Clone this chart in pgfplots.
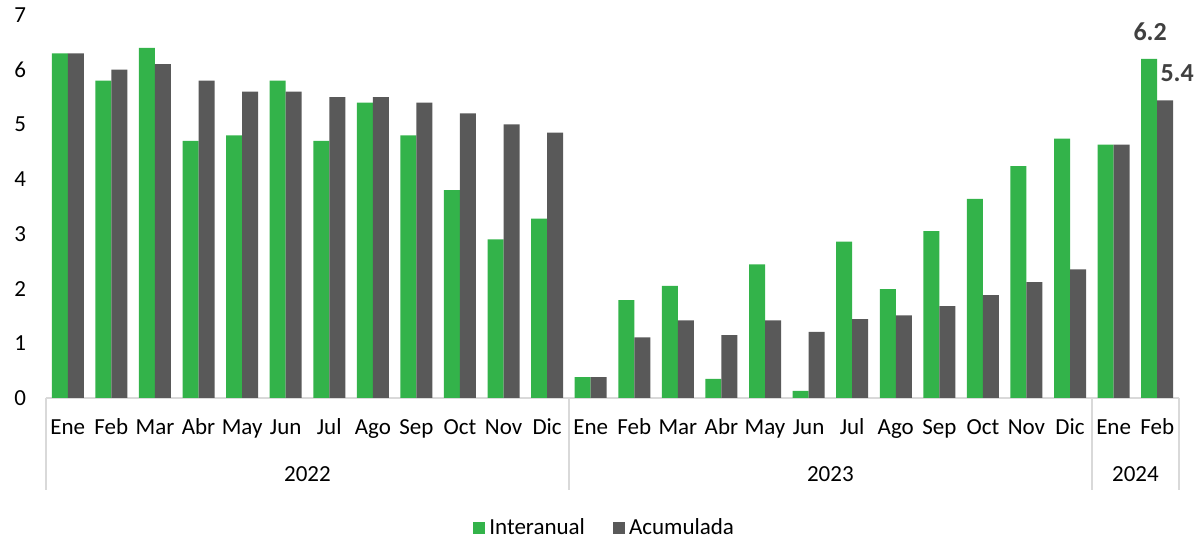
\documentclass[border=0pt]{standalone}
\usepackage{pgfplots}
\pgfplotsset{compat=1.18}
\usepackage{pgfplotstable}
\usepackage{fontspec}
\setmainfont{Carlito}
\definecolor{verde}{HTML}{33B34A}
\definecolor{gris}{HTML}{595959}
\definecolor{linea}{HTML}{D9D9D9}
\definecolor{etiqueta}{HTML}{404040}

% x = month index, inter = interanual, acum = acumulada
\pgfplotstableread{
x inter acum
0  6.3  6.3
1  5.8  6.0
2  6.4  6.1
3  4.7  5.8
4  4.8  5.6
5  5.8  5.6
6  4.7  5.5
7  5.4  5.5
8  4.8  5.4
9  3.8  5.2
10 2.9  5.0
11 3.28 4.85
12 0.38 0.38
13 1.79 1.11
14 2.05 1.42
15 0.35 1.15
16 2.44 1.42
17 0.13 1.21
18 2.86 1.44
19 1.99 1.51
20 3.05 1.68
21 3.64 1.88
22 4.24 2.12
23 4.74 2.35
24 4.63 4.63
25 6.2  5.44
}\datos

\begin{document}
\fontsize{11.5}{13.8}\selectfont
\begin{tikzpicture}
\begin{axis}[
  scale only axis,
  width=566.5pt, height=191.5pt,
  ymin=0, ymax=7, ytick={0,...,7},
  xmin=-0.5, xmax=25.5,
  ybar=0pt, bar width=8pt,
  axis x line*=bottom, axis y line*=left,
  x axis line style={linea, line width=0.8pt},
  y axis line style={draw=none},
  xtick=data,
  xticklabels={Ene,Feb,Mar,Abr,May,Jun,Jul,Ago,Sep,Oct,Nov,Dic,
               Ene,Feb,Mar,Abr,May,Jun,Jul,Ago,Sep,Oct,Nov,Dic,Ene,Feb},
  major tick length=0pt,
  tick style={draw=none},
  xticklabel style={anchor=base, yshift=-18.5pt},
  yticklabel style={xshift=-6pt},
  /pgf/number format/assume math mode=true,
  ticklabel style={font=\fontsize{11.5}{13.8}\selectfont},
  clip=false,
  legend columns=2,
  legend style={at={(0.494,-0.34)}, anchor=center, draw=none,
    font=\fontsize{11.5}{13.8}\selectfont,
    /tikz/every even column/.append style={column sep=12pt}},
]
\addplot[fill=verde, draw=none,
  legend image code/.code={\fill[verde] (0pt,-3pt) rectangle (6pt,3pt);}]
  table[x=x, y=inter] {\datos};
\addlegendentry{Interanual}
\addplot[fill=gris, draw=none,
  legend image code/.code={\fill[gris] (0pt,-3pt) rectangle (6pt,3pt);}]
  table[x=x, y=acum] {\datos};
\addlegendentry{Acumulada}

% year group separators and labels
\pgfplotsinvokeforeach{-0.5,11.5,23.5,25.5}{
  \draw[linea, line width=0.8pt] (axis cs:#1,0) -- ([yshift=-46pt]axis cs:#1,0);
}
\node[anchor=base, yshift=-42pt] at (axis cs:5.5,0) {2022};
\node[anchor=base, yshift=-42pt] at (axis cs:17.5,0) {2023};
\node[anchor=base, yshift=-42pt] at (axis cs:24.5,0) {2024};

% value labels on the last month
\node[font=\fontsize{13}{15}\selectfont\bfseries, text=etiqueta, xshift=-3.5pt]
  at (axis cs:25,6.69) {6.2};
\node[font=\fontsize{13}{15}\selectfont\bfseries, text=etiqueta, xshift=10pt]
  at (axis cs:25,5.94) {5.4};
\end{axis}
\pgfresetboundingbox
\useasboundingbox (-23pt,-70.5pt) rectangle (577pt,199pt);
\end{tikzpicture}
\end{document}
